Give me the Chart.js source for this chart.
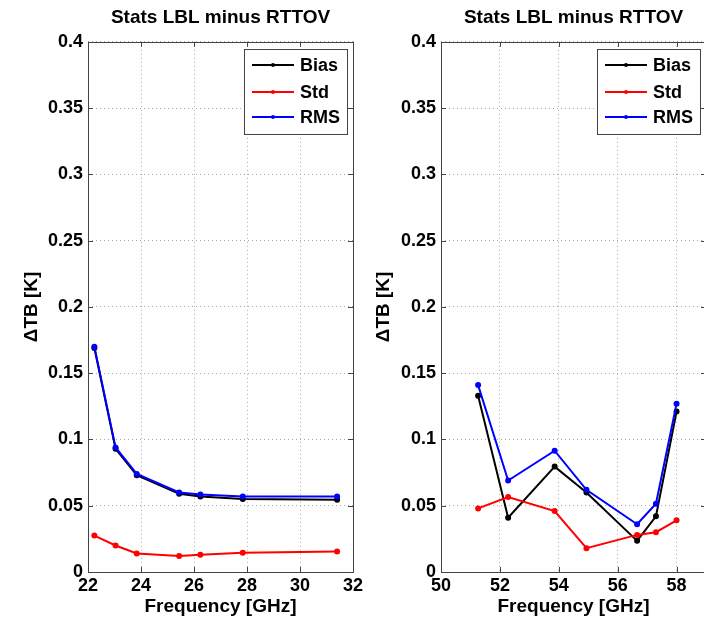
<!DOCTYPE html>
<html>
<head>
<meta charset="utf-8">
<script src="https://cdn.jsdelivr.net/npm/chart.js@4.4.1/dist/chart.umd.min.js"></script>
<style>
  html, body { margin: 0; padding: 0; background: #fff; overflow: hidden; width: 704px; height: 623px; }
  .panel { position: absolute; top: 0; height: 623px; }
</style>
</head>
<body>
<div class="panel" style="left:0;width:380px"><canvas id="kband" width="380" height="623"></canvas></div>
<div class="panel" style="left:360px;width:360px"><canvas id="vband" width="360" height="623"></canvas></div>
<script>
// K-band channels
const kFreq = [22.24, 23.04, 23.84, 25.44, 26.24, 27.84, 31.40];
const kBias = [0.169, 0.093, 0.073, 0.059, 0.057, 0.055, 0.0545];
const kStd  = [0.0275, 0.020, 0.014, 0.012, 0.013, 0.0145, 0.0155];
const kRms  = [0.170, 0.094, 0.074, 0.060, 0.0585, 0.057, 0.057];
const kTicks = [22, 24, 26, 28, 30, 32];

// V-band channels
const vFreq = [51.26, 52.28, 53.86, 54.94, 56.66, 57.30, 58.00];
const vBias = [0.133, 0.041, 0.0795, 0.060, 0.0235, 0.042, 0.121];
const vStd  = [0.048, 0.0565, 0.046, 0.018, 0.028, 0.030, 0.039];
const vRms  = [0.141, 0.069, 0.0915, 0.062, 0.036, 0.0515, 0.127];
const vTicks = [50, 52, 54, 56, 58];

const yTicks = [0, 0.05, 0.1, 0.15, 0.2, 0.25, 0.3, 0.35, 0.4];

const seriesNames = ['Bias', 'Std', 'RMS'];
const seriesColors = ['#000000', '#ff0000', '#0000ff'];

const FONT = "'Liberation Sans', Arial, sans-serif";
const FRAME = '#444';

// box, inward tick marks and legend, matlab style
const matlabBox = {
  id: 'matlabBox',
  afterDraw(chart) {
    const { ctx, chartArea: a, scales } = chart;
    ctx.save();
    ctx.strokeStyle = FRAME;
    ctx.lineWidth = 1;
    ctx.beginPath();
    scales.x.ticks.forEach(t => {
      const px = Math.round(scales.x.getPixelForValue(t.value)) + 0.5;
      ctx.moveTo(px, a.bottom); ctx.lineTo(px, a.bottom - 5);
      ctx.moveTo(px, a.top); ctx.lineTo(px, a.top + 5);
    });
    scales.y.ticks.forEach(t => {
      const py = Math.round(scales.y.getPixelForValue(t.value)) + 0.5;
      ctx.moveTo(a.left, py); ctx.lineTo(a.left + 5, py);
      ctx.moveTo(a.right, py); ctx.lineTo(a.right - 5, py);
    });
    ctx.stroke();
    ctx.strokeRect(Math.round(a.left) + 0.5, Math.round(a.top) + 0.5,
                   Math.round(a.right - a.left), Math.round(a.bottom - a.top));

    // legend
    const bw = 103, bh = 85;
    const bx = Math.round(a.right) - 6 - bw, by = Math.round(a.top) + 7;
    ctx.fillStyle = '#fff';
    ctx.fillRect(bx, by, bw, bh);
    ctx.strokeRect(bx + 0.5, by + 0.5, bw, bh);
    const rows = [16, 43, 68];
    chart.data.datasets.forEach((ds, i) => {
      const y = by + rows[i];
      ctx.strokeStyle = ds.borderColor;
      ctx.lineWidth = 2;
      ctx.beginPath();
      ctx.moveTo(bx + 8, y); ctx.lineTo(bx + 50, y);
      ctx.stroke();
      ctx.fillStyle = ds.borderColor;
      ctx.beginPath();
      ctx.arc(bx + 29, y, 2, 0, Math.PI * 2);
      ctx.fill();
      ctx.fillStyle = '#000';
      ctx.font = 'bold 18px ' + FONT;
      ctx.textBaseline = 'middle';
      ctx.textAlign = 'left';
      ctx.fillText(ds.label, bx + 56, y + 1);
    });
    ctx.restore();
  }
};

function makePanel(id, freq, series, xTicks, xMin, xMax, yAxisWidth, padRight, yTitlePad) {
  const datasets = series.map((vals, i) => ({
    label: seriesNames[i],
    data: freq.map((f, j) => ({ x: f, y: vals[j] })),
    borderColor: seriesColors[i],
    backgroundColor: seriesColors[i],
    borderWidth: 2,
    pointRadius: 2,
    pointHoverRadius: 2,
    tension: 0,
    order: 2 - i
  }));

  const gridStyle = {
    color: '#aaa',
    lineWidth: 1,
    drawTicks: false
  };

  return new Chart(document.getElementById(id), {
    type: 'line',
    data: { datasets },
    options: {
      responsive: false,
      animation: false,
      layout: { padding: { left: 0, right: padRight, top: 0, bottom: 0 } },
      plugins: {
        legend: { display: false },
        tooltip: { enabled: false },
        title: {
          display: true,
          fullSize: false,
          text: 'Stats LBL minus RTTOV',
          color: '#000',
          font: { family: FONT, size: 19, weight: 'bold' },
          padding: { top: 6, bottom: 13 }
        }
      },
      scales: {
        x: {
          type: 'linear',
          min: xMin,
          max: xMax,
          ticks: {
            color: '#000',
            padding: 3,
            maxRotation: 0,
            autoSkip: false,
            font: { family: FONT, size: 18, weight: 'bold' },
            callback: v => String(v)
          },
          grid: gridStyle,
          border: { display: false, dash: [1, 3] },
          title: {
            display: true,
            text: 'Frequency [GHz]',
            color: '#000',
            font: { family: FONT, size: 19, weight: 'bold' },
            padding: { top: 0, bottom: 5 }
          },
          afterBuildTicks(scale) {
            scale.ticks = xTicks.map(v => ({ value: v }));
          },
          afterFit(scale) {
            scale.height = 51;
            scale.paddingLeft = 0;
            scale.paddingRight = 0;
          }
        },
        y: {
          min: 0,
          max: 0.4,
          ticks: {
            color: '#000',
            padding: 5,
            autoSkip: false,
            font: { family: FONT, size: 18, weight: 'bold' },
            callback: v => String(v)
          },
          grid: gridStyle,
          border: { display: false, dash: [1, 3] },
          title: {
            display: true,
            text: '\u0394TB [K]',
            color: '#000',
            font: { family: FONT, size: 19, weight: 'bold' },
            padding: { top: yTitlePad, bottom: 0 }
          },
          afterBuildTicks(scale) {
            scale.ticks = yTicks.map(v => ({ value: v }));
          },
          afterFit(scale) {
            scale.width = yAxisWidth;
            scale.paddingTop = 0;
            scale.paddingBottom = 0;
          }
        }
      }
    },
    plugins: [matlabBox]
  });
}

makePanel('kband', kFreq, [kBias, kStd, kRms], kTicks, 22, 32, 88, 27, 20);
makePanel('vband', vFreq, [vBias, vStd, vRms], vTicks, 50, 59, 81, 14, 12);
</script>
</body>
</html>
